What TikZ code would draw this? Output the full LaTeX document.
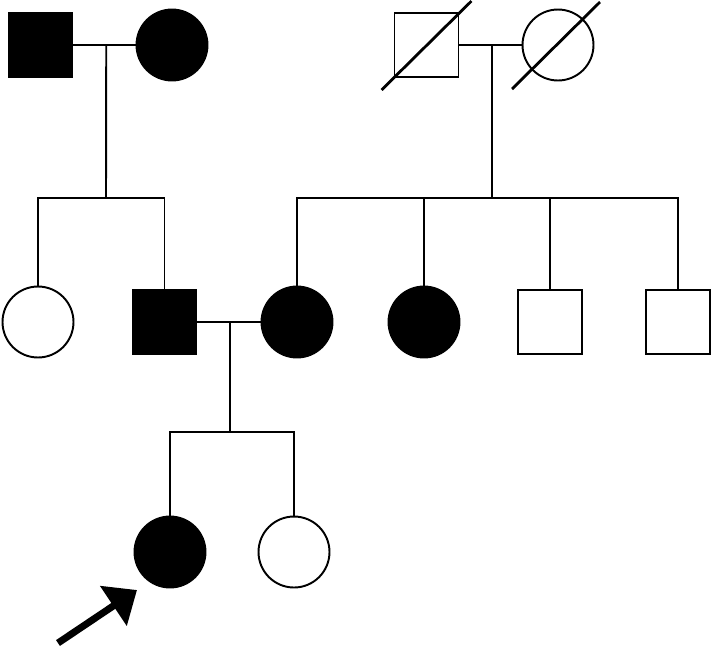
\documentclass[tikz,border=0pt]{standalone}
\usepackage{tikz}
\usetikzlibrary{arrows.meta, positioning, calc}

\tikzset{
  male/.style={draw, rectangle, minimum size=1.28cm, inner sep=0pt, line width=1.1pt},
  female/.style={draw, circle, minimum size=1.42cm, inner sep=0pt, line width=1.1pt},
  aff/.style={fill=black},
  link/.style={line width=1.1pt},
  slash/.style={line width=1.6pt}
}

\begin{document}
\begin{tikzpicture}[x=0.02cm, y=-0.02cm]
        % Fix the page size
        \useasboundingbox (0,0) rectangle (713,657);

        % Define heights of the generations
        \def\ya{45}   % generation I
        \def\yb{322}  % generation II
        \def\yc{552}  % generation III

        % Generation I
        \node[male, aff] (gfa) at (40.5, \ya) {};
        \node[female, aff] (gma) at (172, \ya) {};
        \node[male] (gfb) at (426.5, \ya) {};
        \node[female] (gmb) at (558, \ya) {};

        % deceased
        \draw[slash] ([shift={(-12,12)}]gfb.south west) -- ([shift={(12,-11)}]gfb.north east);
        \draw[slash] ([shift={(-46,44)}]gmb.center) -- ([shift={(42,-43)}]gmb.center);

        % Generation II
        \node[female] (aunt) at (38, \yb) {};
        \node[male, aff] (father) at (164.5, \yb) {};
        \node[female, aff] (mother) at (297, \yb) {};
        \node[female, aff] (sis) at (424, \yb) {};
        \node[male] (bro1) at (550, \yb) {};
        \node[male] (bro2) at (678, \yb) {};

        % Generation III
        \node[female, aff] (proband) at (170, \yc) {};
        \node[female] (sister) at (294, \yc) {};

        % Marriage lines and descents
        \draw[link] (gfa) -- (gma);
        \draw[link] (gfb) -- (gmb);
        \draw[link] (father) -- (mother);

        \coordinate (ma) at ($(gfa)!0.5!(gma)$);
        \coordinate (mb) at (492, \ya);
        \coordinate (mc) at (230, \yb);

        \coordinate (sa) at (106, 198);
        \coordinate (sb) at (492, 198);
        \coordinate (sc) at (230, 432);

        \draw[link] (ma) -- (sa);
        \draw[link] (mb) -- (sb);
        \draw[link] (mc) -- (sc);

        % Sibship lines
        \draw[link] (aunt.north) |- (sa) -| (father.north);
        \draw[link] (mother.north) |- (sb) -| (bro2.north);
        \foreach \c in {sis, bro1} {
            \draw[link] (\c.north) -- (\c.north |- sb);
        }
        \draw[link] (proband.north) |- (sc) -| (sister.north);

        % Proband arrow
        \coordinate (ptail) at (58, 643);
        \coordinate (ptip) at (137, 590);
        \draw[line width=4pt, -{Triangle[length=0.57cm, width=0.93cm]}] (ptail) -- (ptip);
    \end{tikzpicture}
\end{document}
